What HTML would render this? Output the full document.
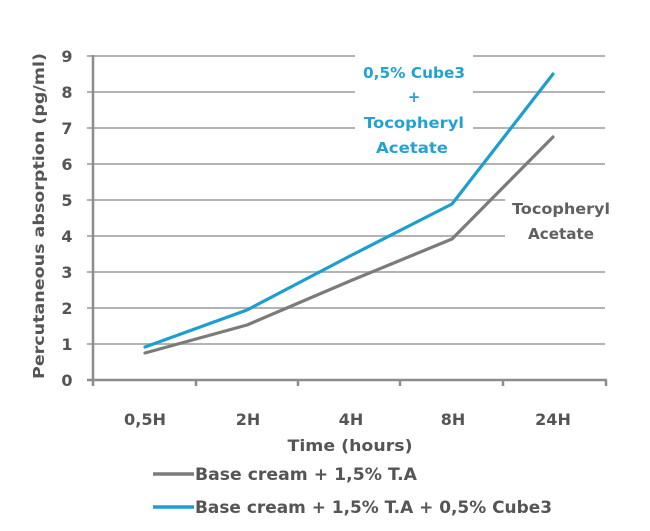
<!DOCTYPE html>
<html>
<head>
<meta charset="utf-8">
<style>
  html,body{margin:0;padding:0;background:#fff;}
  svg{display:block;}
  text{font-family:"DejaVu Sans","Liberation Sans",sans-serif;font-weight:bold;}
</style>
</head>
<body>
<svg width="650" height="531" viewBox="0 0 650 531" xmlns="http://www.w3.org/2000/svg">
  <rect width="650" height="531" fill="#fff"/>
  <!-- gridlines -->
  <g stroke="#b3b3b3" stroke-width="2">
    <line x1="87" y1="344" x2="605" y2="344"/>
    <line x1="87" y1="308" x2="605" y2="308"/>
    <line x1="87" y1="272" x2="605" y2="272"/>
    <line x1="87" y1="236" x2="605" y2="236"/>
    <line x1="87" y1="200" x2="605" y2="200"/>
    <line x1="87" y1="164" x2="605" y2="164"/>
    <line x1="87" y1="128" x2="605" y2="128"/>
    <line x1="87" y1="92" x2="605" y2="92"/>
    <line x1="87" y1="56" x2="605" y2="56"/>
  </g>
  <!-- white boxes behind annotations -->
  <rect x="355" y="46" width="118" height="112" fill="#fff"/>
  <rect x="505" y="190" width="110" height="56" fill="#fff"/>
  <!-- axes -->
  <g stroke="#8c8c8c" stroke-width="2.5">
    <line x1="93" y1="55" x2="93" y2="386"/>
    <line x1="87" y1="380" x2="607" y2="380"/>
    <line x1="196" y1="380" x2="196" y2="386"/>
    <line x1="298" y1="380" x2="298" y2="386"/>
    <line x1="400" y1="380" x2="400" y2="386"/>
    <line x1="503" y1="380" x2="503" y2="386"/>
    <line x1="606" y1="380" x2="606" y2="386"/>
  </g>
  <!-- y tick labels -->
  <g fill="#555" font-size="16" text-anchor="middle">
    <text x="67" y="386">0</text>
    <text x="67" y="350">1</text>
    <text x="67" y="314">2</text>
    <text x="67" y="278">3</text>
    <text x="67" y="242">4</text>
    <text x="67" y="206">5</text>
    <text x="67" y="170">6</text>
    <text x="67" y="134">7</text>
    <text x="67" y="98">8</text>
    <text x="67" y="62">9</text>
  </g>
  <!-- y axis title -->
  <text x="0" y="0" transform="translate(44,216) rotate(-90)" fill="#555" font-size="15.5" text-anchor="middle" textLength="326" lengthAdjust="spacingAndGlyphs">Percutaneous absorption (pg/ml)</text>
  <!-- x tick labels -->
  <g fill="#555" font-size="16" text-anchor="middle">
    <text x="145" y="425" textLength="42" lengthAdjust="spacingAndGlyphs">0,5H</text>
    <text x="248" y="425">2H</text>
    <text x="351" y="425">4H</text>
    <text x="453" y="425">8H</text>
    <text x="553" y="425">24H</text>
  </g>
  <text x="350" y="451" fill="#555" font-size="16" text-anchor="middle" textLength="125" lengthAdjust="spacingAndGlyphs">Time (hours)</text>
  <!-- series -->
  <polyline points="145,353 247,325 350,281 452,239 553,137" fill="none" stroke="#7b7b7b" stroke-width="3.2" stroke-linejoin="round" stroke-linecap="round"/>
  <polyline points="145,347 247,310 350,256 452,204 553,74" fill="none" stroke="#1b9fd0" stroke-width="3.2" stroke-linejoin="round" stroke-linecap="round"/>
  <!-- annotations -->
  <g fill="#22a2d3" font-size="15" text-anchor="middle">
    <text x="414" y="78" textLength="102" lengthAdjust="spacingAndGlyphs">0,5% Cube3</text>
    <text x="414" y="102">+</text>
    <text x="414" y="128" textLength="100" lengthAdjust="spacingAndGlyphs">Tocopheryl</text>
    <text x="412" y="153" textLength="72" lengthAdjust="spacingAndGlyphs">Acetate</text>
  </g>
  <g fill="#606060" font-size="15" text-anchor="middle">
    <text x="561" y="214" textLength="98" lengthAdjust="spacingAndGlyphs">Tocopheryl</text>
    <text x="561" y="239" textLength="66" lengthAdjust="spacingAndGlyphs">Acetate</text>
  </g>
  <!-- legend -->
  <line x1="153" y1="474" x2="194" y2="474" stroke="#7b7b7b" stroke-width="3.5"/>
  <line x1="153" y1="507" x2="194" y2="507" stroke="#1b9fd0" stroke-width="3.5"/>
  <g fill="#555" font-size="16.5">
    <text x="195" y="480" textLength="222" lengthAdjust="spacingAndGlyphs">Base cream + 1,5% T.A</text>
    <text x="195" y="513" textLength="357" lengthAdjust="spacingAndGlyphs">Base cream + 1,5% T.A + 0,5% Cube3</text>
  </g>
</svg>
</body>
</html>
